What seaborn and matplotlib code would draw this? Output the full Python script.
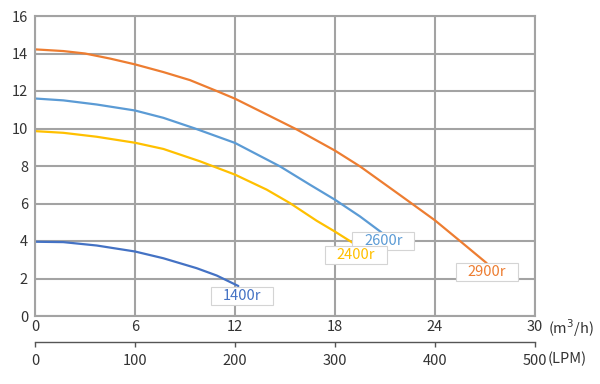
import pandas as pd
import matplotlib
matplotlib.use('Agg')
import matplotlib.pyplot as plt
import seaborn as sns

# Pump curves: flow (m3/h) vs head (m)
flow_2900 = [0, 1.7, 3, 4.5, 6, 7.7, 9.3, 10.9, 12, 13.9, 15.7, 18, 19.5, 21.9, 24, 25.5, 27.1]
head_2900 = [14.22, 14.13, 14.0, 13.73, 13.42, 13.01, 12.58, 12.0, 11.59, 10.75, 9.95, 8.82,
             7.98, 6.45, 5.1, 4.0, 2.82]

flow_2600 = [0, 1.7, 3.7, 6, 7.7, 9.6, 12, 14.7, 16.5, 18, 19.5, 20.8]
head_2600 = [11.6, 11.5, 11.28, 10.96, 10.57, 10.0, 9.23, 7.98, 7.0, 6.2, 5.31, 4.45]

flow_2400 = [0, 1.7, 3.7, 6, 7.7, 9.9, 12, 13.9, 15.3, 16.9, 18, 19.25]
head_2400 = [9.86, 9.77, 9.56, 9.24, 8.91, 8.25, 7.54, 6.74, 6.02, 5.08, 4.5, 3.8]

flow_1400 = [0, 1.7, 3.7, 6, 7.7, 9.7, 10.9, 12.2]
head_1400 = [3.96, 3.94, 3.76, 3.44, 3.08, 2.55, 2.16, 1.6]

speeds = ['2900r', '2600r', '2400r', '1400r']
colors = ['#ED7D31', '#5B9BD5', '#FFC000', '#4472C4']

x_ticks = [0, 6, 12, 18, 24, 30]
y_ticks = [0, 2, 4, 6, 8, 10, 12, 14, 16]
lpm_ticks = [0, 100, 200, 300, 400, 500]

# label box centres (flow, head)
label_x = [27.1, 20.9, 19.25, 12.4]
label_y = [2.35, 4.0, 3.26, 1.07]

frames = []
for name, fx, hy in zip(speeds,
                        [flow_2900, flow_2600, flow_2400, flow_1400],
                        [head_2900, head_2600, head_2400, head_1400]):
    frames.append(pd.DataFrame({'flow': fx, 'head': hy, 'speed': name}))
df = pd.concat(frames, ignore_index=True)

sns.set_style('white')
plt.rcParams['font.family'] = ['Noto Sans CJK SC', 'DejaVu Sans']

fig = plt.figure(figsize=(6, 3.84), dpi=100)
ax = fig.add_axes([35 / 600, 1 - 316 / 384, 500 / 600, 300 / 384])

grid_col = '#a3a3a3'
ax.set_xlim(0, 30)
ax.set_ylim(0, 16)
ax.set_xticks(x_ticks)
ax.set_yticks(y_ticks)
ax.grid(True, color=grid_col, lw=1.5)
ax.set_axisbelow(True)
for s in ax.spines.values():
    s.set_color(grid_col)
    s.set_linewidth(1.5)

sns.lineplot(data=df, x='flow', y='head', hue='speed', palette=dict(zip(speeds, colors)),
             sort=False, legend=False, lw=1.6, ax=ax)

ax.set_xlabel('')
ax.set_ylabel('')
ax.tick_params(axis='both', length=0, labelsize=10.5, labelcolor='#333333')
ax.tick_params(axis='x', pad=3)
ax.tick_params(axis='y', pad=5)

for name, c, lx, ly in zip(speeds, colors, label_x, label_y):
    ax.text(lx, ly, name, color=c, fontsize=10.5, ha='center', va='center',
            bbox=dict(boxstyle='square,pad=0.8', fc='white', ec='#d4d4d4', lw=0.8,
                      mutation_aspect=0.2), zorder=5)

ax.text(30.8, -0.65, '(m$^3$/h)', fontsize=10.5, color='#333333', ha='left', va='center',
        clip_on=False)

# secondary flow axis in litres per minute
sec = ax.secondary_xaxis(-0.088, functions=(lambda x: x * 50 / 3, lambda x: x * 3 / 50))
sec.set_xticks(lpm_ticks)
sec.spines['bottom'].set_color('#555555')
sec.spines['bottom'].set_linewidth(1.0)
sec.tick_params(axis='x', direction='out', length=3.5, width=1.0, color='#555555',
                labelsize=10.5, labelcolor='#333333', pad=5)
ax.text(30.75, -2.3, '(LPM)', fontsize=10.5, color='#333333', ha='left', va='center',
        clip_on=False)

fig.savefig('out.png', dpi=100, facecolor='white')
